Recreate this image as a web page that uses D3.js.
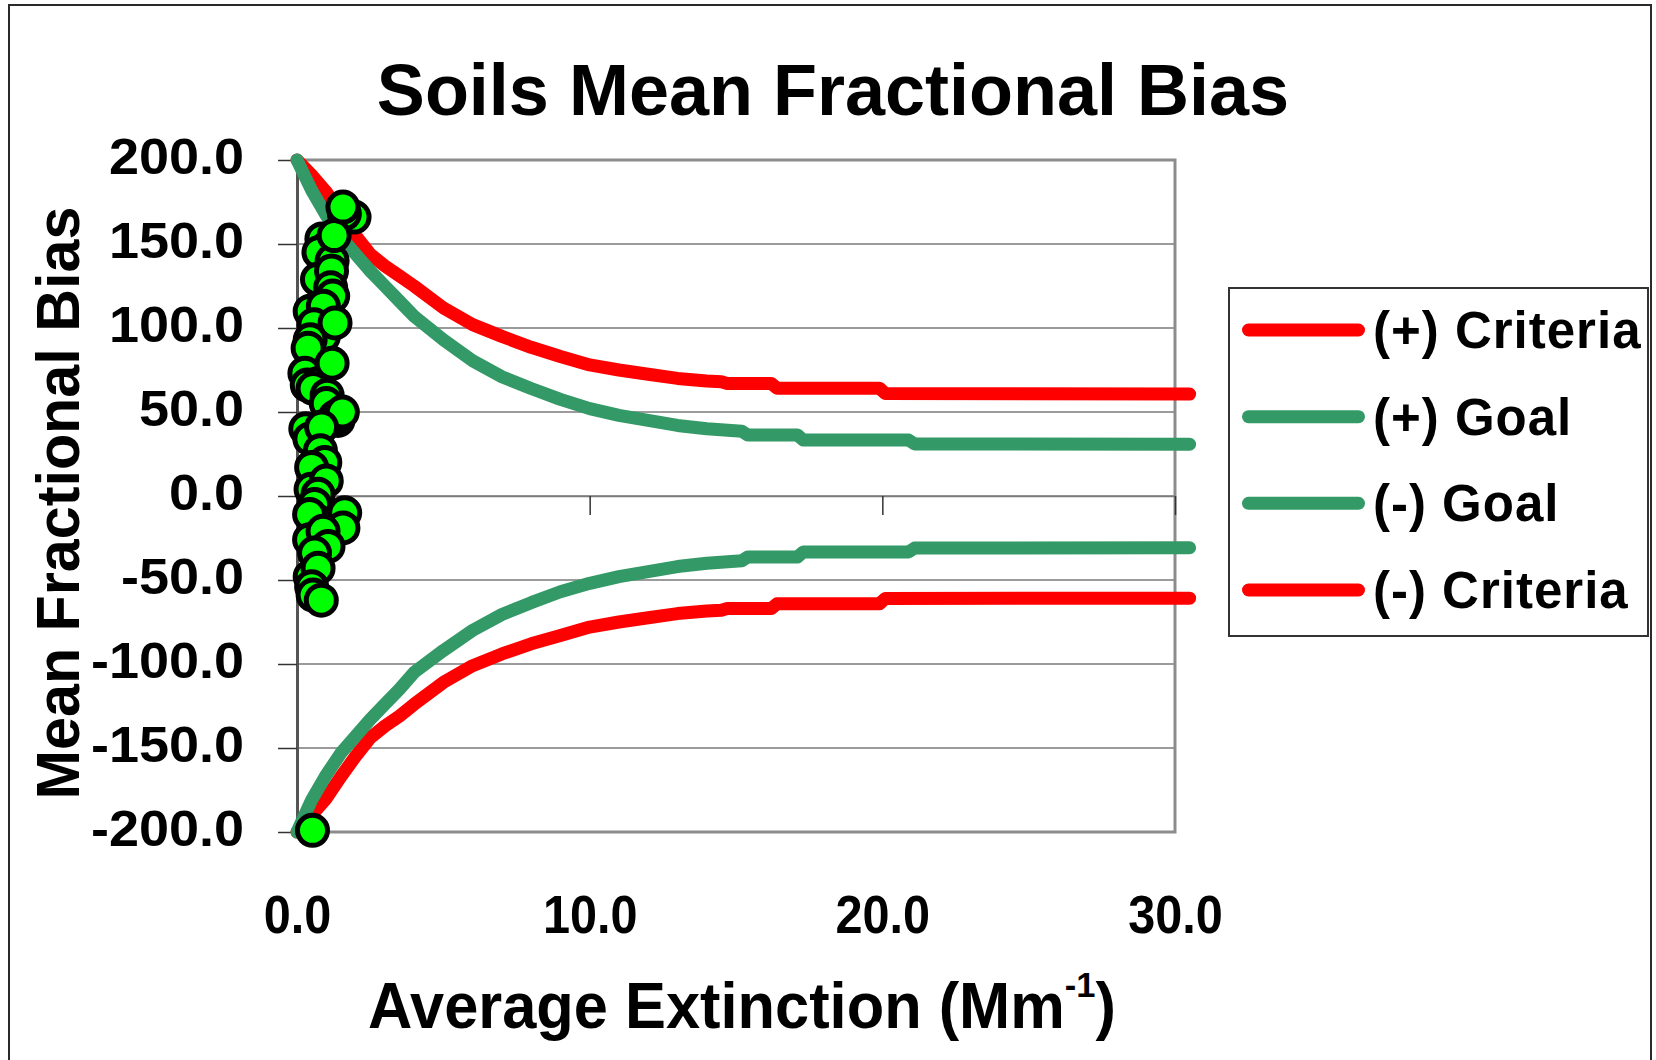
<!DOCTYPE html>
<html><head><meta charset="utf-8">
<script src="https://cdn.jsdelivr.net/npm/d3@7"></script>
<style>
body{margin:0;background:#fff}
svg{display:block}
text{font-family:"Liberation Sans",Arial,Helvetica,sans-serif;font-weight:bold;fill:#000}
</style>
</head><body>
<svg id="chart" width="1656" height="1060"></svg>
<script>
// ---------- data ----------
const chartTitle = "Soils Mean Fractional Bias";
const xAxisTitle = "Average Extinction (Mm";
const xAxisSup = "-1";
const yAxisTitle = "Mean Fractional Bias";
const xTickValues = [0, 10, 20, 30];
const yTickValues = [-200, -150, -100, -50, 0, 50, 100, 150, 200];
const seriesNames = ["(+) Criteria", "(+) Goal", "(-) Goal", "(-) Criteria"];
const seriesColors = ["#ff0000", "#339966", "#339966", "#ff0000"];

const critX    = [0, 0.5, 1, 1.5, 2, 2.5, 3, 3.5, 4, 5, 6, 7, 8, 9, 10, 11, 12, 13, 14, 14.5, 14.7, 16.2, 16.4, 19.9, 20.1, 30.5];
const critPosY = [200, 191, 181, 168, 155, 144, 137, 131, 125, 112, 102, 95, 88.5, 83, 78, 75, 72.5, 70, 68.5, 68, 67, 67, 64.2, 64.2, 61, 60.7];
const critNegY = [-200, -190, -180, -167, -155, -144, -137, -131, -124, -111, -101, -94, -88, -83, -78, -75, -72.5, -70, -68.5, -68, -67, -67, -64.2, -64.2, -61, -60.8];

const goalX    = [0, 0.5, 1, 1.5, 2, 2.5, 3, 3.5, 4, 5, 6, 7, 8, 9, 10, 11, 12, 13, 14, 15.2, 15.4, 17.1, 17.3, 20.9, 21.1, 30.5];
const goalPosY = [200, 182, 167, 154, 144, 134, 125, 116, 107, 93, 80.5, 71, 64, 57.5, 52, 48, 45, 42, 40, 38.5, 36.3, 36.3, 33.3, 33.3, 31, 30.8];
const goalNegY = [-200, -181, -166, -153, -143, -133, -124, -115, -105, -92, -80, -70.5, -63.5, -57, -52, -48, -45, -42, -40, -38.5, -36.3, -36.3, -33.3, -33.3, -31, -30.8];

const obsX = [1.95, 0.85, 1.05, 0.75, 1.2, 0.7, 0.45, 0.65, 0.9, 1.62, 1.27, 1.18, 1.15, 1.22, 0.9, 0.58, 1.3, 0.45, 0.38, 0.27, 0.35, 0.72, 0.55, 0.3, 1.4, 1.2, 1.03, 1.0, 1.3, 1.55, 0.44, 0.84, 0.8, 0.95, 0.65, 0.5, 0.48, 1.0, 0.72, 0.6, 0.7, 0.43, 1.63, 1.57, 0.43, 0.89, 1.06, 0.45, 0.6, 0.72, 0.5, 0.55, 0.83, 1.57, 0.53];
const obsY = [166, 153, 148, 145, 140, 129, 110, 85, 95, 168, 155, 134, 124, 119, 113, 102, 103, 93, 88, 73, 66, 67, 64, 40, 45, 79, 60, 55, 47, 50, 34, 41, 27, 20, 12, 17, 4, 9, 1, -5, -15, -11, -10, -19, -26, -21, -30, -48, -34, -43, -54, -59, -62, 172, -199];

// ---------- setup ----------
const svg = d3.select("#chart");
const X0 = 297, X1 = 1175, Y0 = 160, Y1 = 832;
const x = d3.scaleLinear().domain([0, 30]).range([X0, X1]);
const y = d3.scaleLinear().domain([-200, 200]).range([Y1, Y0]);
const fmt = v => d3.format(".1f")(v).replace("\u2212", "-");

// outer frame
svg.append("rect").attr("x", 9).attr("y", 5).attr("width", 1642).attr("height", 1100)
  .attr("fill", "#fff").attr("stroke", "#2a2a2a").attr("stroke-width", 2);

// gridlines
svg.append("g").selectAll("line").data(yTickValues.filter(v => v > -200 && v < 200)).join("line")
  .attr("x1", X0).attr("x2", X1).attr("y1", d => y(d)).attr("y2", d => y(d))
  .attr("stroke", "#7a7a7a").attr("stroke-width", 1.5);

// plot border (top, right, bottom)
svg.append("path")
  .attr("d", `M${X0},${Y0}H${X1}V${Y1}H${X0}`)
  .attr("fill", "none").attr("stroke", "#8c8c8c").attr("stroke-width", 3);

// y axis (left)
const yAxis = svg.append("g").attr("transform", `translate(${X0},0)`)
  .call(d3.axisLeft(y).tickValues(yTickValues).tickSize(19).tickSizeOuter(0).tickPadding(0)
        .tickFormat(fmt));
yAxis.select(".domain").attr("stroke", "#555").attr("stroke-width", 3);
yAxis.selectAll(".tick line").attr("stroke", "#333").attr("stroke-width", 1.5);
yAxis.selectAll(".tick text")
  .attr("x", null).attr("dy", null)
  .attr("transform", "translate(-53,13) scale(1.08,1)")
  .attr("text-anchor", "end")
  .style("font-size", "50px").style("font-family", "'Liberation Sans',Arial,sans-serif").style("font-weight", "bold");

// x axis crossing at y = 0 (ticks only)
const xAxis = svg.append("g").attr("transform", `translate(0,${y(0)})`)
  .call(d3.axisBottom(x).tickValues(xTickValues).tickSize(19).tickSizeOuter(0).tickFormat(""));
xAxis.select(".domain").attr("stroke", "#7a7a7a").attr("stroke-width", 1.5);
xAxis.selectAll(".tick line").attr("stroke", "#333").attr("stroke-width", 1.5);

// x tick labels at low position
const xLab = svg.append("g").attr("transform", `translate(0,933)`)
  .call(d3.axisBottom(x).tickValues(xTickValues).tickSize(0).tickPadding(0).tickFormat(fmt));
xLab.select(".domain").remove();
xLab.selectAll(".tick text")
  .attr("y", 0).attr("dy", null)
  .attr("transform", "scale(0.9,1)")
  .style("font-size", "54px").style("font-family", "'Liberation Sans',Arial,sans-serif").style("font-weight", "bold");

// curves
const line = d3.line().x(d => x(d[0])).y(d => y(d[1]));
const curves = [
  d3.zip(critX, critPosY),
  d3.zip(goalX, goalPosY),
  d3.zip(goalX, goalNegY),
  d3.zip(critX, critNegY)
];
const drawOrder = [0, 3, 1, 2];
svg.append("g").selectAll("path").data(drawOrder).join("path")
  .attr("d", i => line(curves[i]))
  .attr("fill", "none").attr("stroke", i => seriesColors[i]).attr("stroke-width", 13)
  .attr("stroke-linecap", "round").attr("stroke-linejoin", "round");

// observations
svg.append("g").selectAll("circle").data(d3.zip(obsX, obsY)).join("circle")
  .attr("cx", d => x(d[0])).attr("cy", d => y(d[1])).attr("r", 15)
  .attr("fill", "#00ff00").attr("stroke", "#000").attr("stroke-width", 5);

// title
svg.append("text").attr("x", 833).attr("y", 115).attr("text-anchor", "middle")
  .style("font-size", "72px").text(chartTitle);

// x axis title
const xt = svg.append("g").attr("transform", "translate(742,1028)");
const xtText = xt.append("text").attr("text-anchor", "middle").style("font-size", "64px");
xtText.append("tspan").text(xAxisTitle);
xtText.append("tspan").attr("dy", -31).style("font-size", "36px").text(xAxisSup);
xtText.append("tspan").attr("dy", 31).text(")");
const xtw = xtText.node().getBBox().width;
xtText.attr("transform", `scale(${748 / xtw},1)`);

// y axis title
const yt = svg.append("g").attr("transform", "translate(79,503) rotate(-90)");
const ytText = yt.append("text").attr("text-anchor", "middle").style("font-size", "61px").text(yAxisTitle);
const ytw = ytText.node().getBBox().width;
ytText.attr("transform", `scale(${593 / ytw},1)`);

// legend
const lg = svg.append("g");
lg.append("rect").attr("x", 1229).attr("y", 288).attr("width", 419).attr("height", 348)
  .attr("fill", "#fff").attr("stroke", "#333").attr("stroke-width", 2);
const rowY = [330, 416.7, 503.3, 590];
const items = lg.selectAll("g.item").data(seriesNames).join("g").attr("class", "item")
  .attr("transform", (d, i) => `translate(0,${rowY[i]})`);
items.append("line").attr("x1", 1248.5).attr("x2", 1358.5).attr("y1", 0).attr("y2", 0)
  .attr("stroke", (d, i) => seriesColors[i]).attr("stroke-width", 13).attr("stroke-linecap", "round");
items.append("text").attr("x", 1373).attr("y", 18).style("font-size", "51px")
  .style("letter-spacing", "1px").text(d => d);
</script>
</body></html>
